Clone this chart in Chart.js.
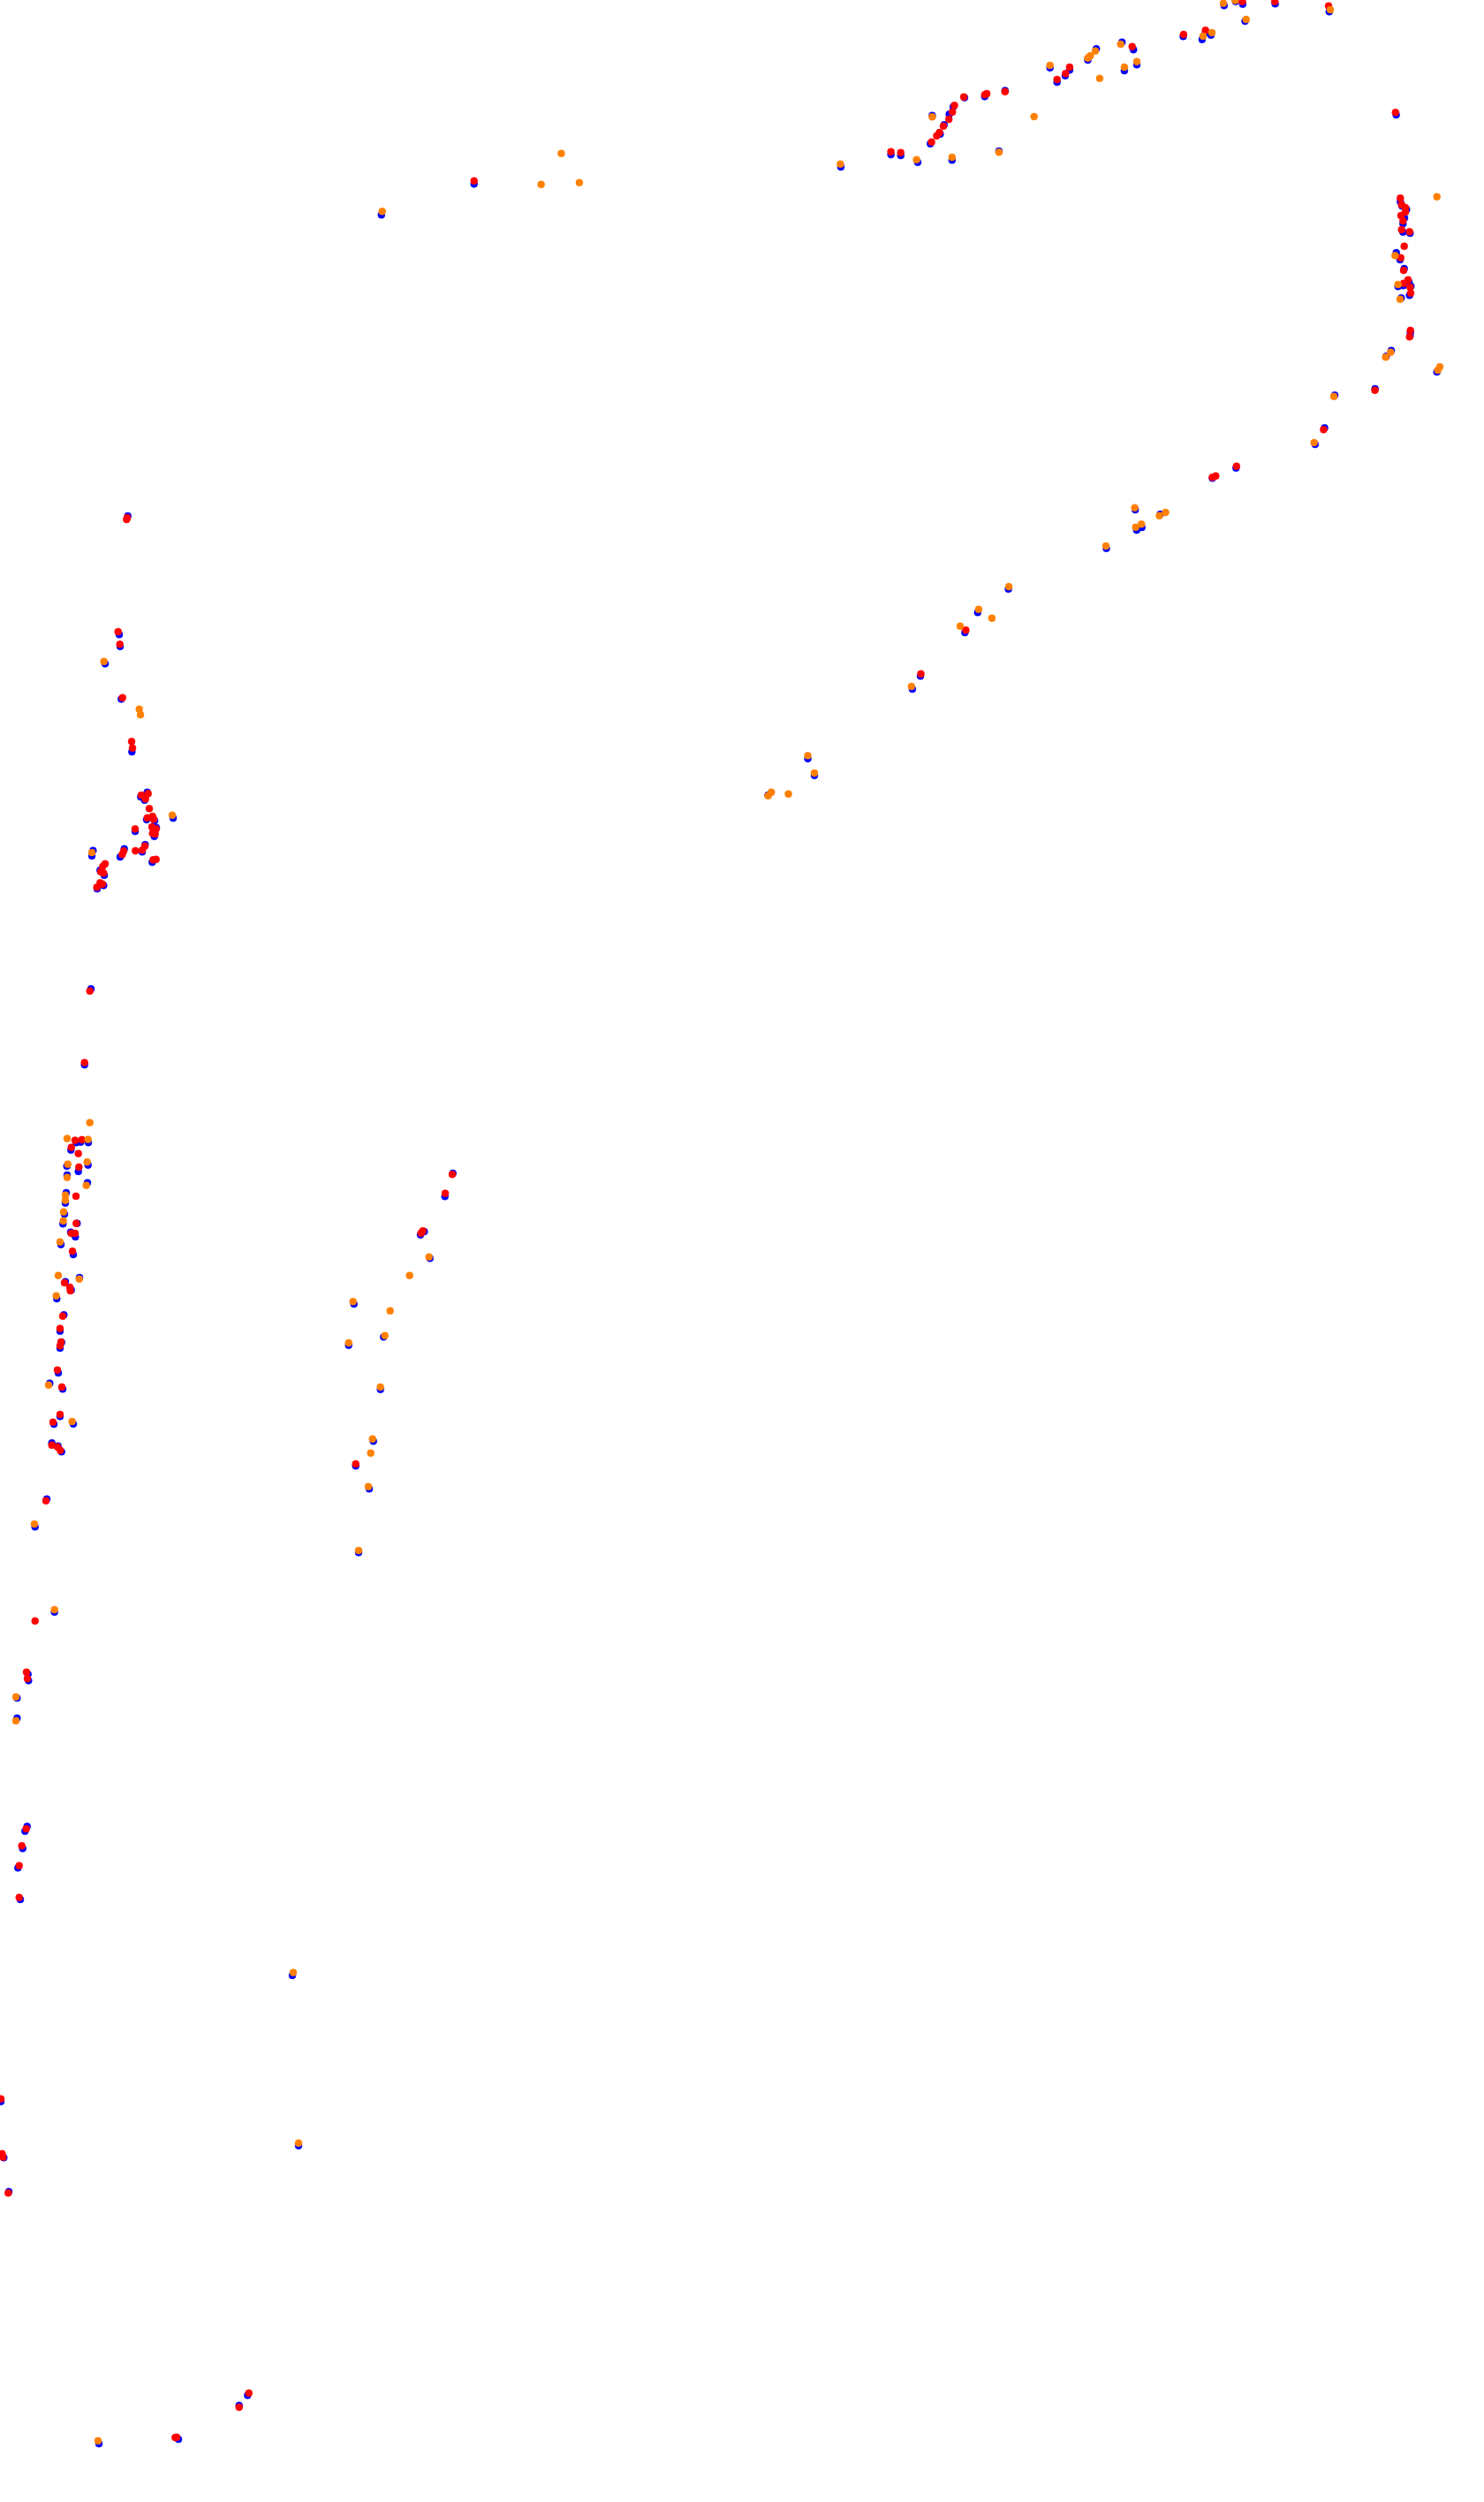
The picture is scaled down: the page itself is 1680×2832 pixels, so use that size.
<!DOCTYPE html>
<html>
<head>
<meta charset="utf-8">
<script src="https://cdn.jsdelivr.net/npm/chart.js@4/dist/chart.umd.min.js"></script>
<style>
  html, body { margin: 0; padding: 0; background: #ffffff; }
  #wrap { width: 1680px; height: 2832px; }
  canvas { display: block; }
</style>
</head>
<body>
<div id="wrap"><canvas id="c" width="1680" height="2832"></canvas></div>
<script>
// Axis extents (data units = position on the track map)
const xRange = [0, 1680];
const yRange = [0, 2832];

const redPoints = [
  [536.7,204.7],[1008.6,171.7],[1019.7,172.7],[1054.6,160.7],[1060.4,153.7],[1063.5,150],[1068,142.7],[1074.2,135],[1078.2,126.7],[1080.5,119.3],
  [1091.1,109.7],[1114.8,107.3],[1117.1,106],[1137.8,103.7],[1196.7,90],[1206.3,83.3],[1210.9,76],[1281.7,52.7],[1339.9,39],[1364.7,34.3],[1406.4,1.7],[1443.2,1.7],[1504,6.7],[1579.8,127.3],
  [1585.3,224.3],[1586.7,231.7],[1591,235],[1591,240],[1586,244],[1588.3,250],[1586.7,260],[1595.7,262.3],[1589.7,278.7],[1585.7,291.7],[1589,306],[1594,316.7],[1589,320.7],[1596.3,325],[1597,331.7],[1596.7,374],[1595.7,381.3],[1556.5,441.7],
  [1498.4,486.3],[1399.8,527.7],[1376.3,538.7],[1372.5,540.3],[1093.4,713.3],[1042.5,762.7],
  [144,586],[143.3,588],[133.7,715],[135.7,729.3],[138.7,789.7],[149,839.3],[150,846.7],[160,900],[167.7,898.3],[164.7,904.3],[169,915.3],[166.7,925.7],[172.7,924],[174,927.3],[172,936],[176.7,938.3],[172.7,943.3],[175.7,944],[153,938.3],[164,957.7],[161,962.3],[153.3,963],[140,963.3],[138.3,967.3],[173.3,973.3],[176.7,972.7],[119,977.7],[116.3,980.7],[114,986.7],[117.3,988.3],[113.3,999.3],[116,1000.7],[109.7,1004.3],
  [101.7,1121.7],[95.7,1202.7],[85,1290.7],[92.7,1290],[80.7,1298.7],[88.7,1305.7],[89.3,1321],[86,1354],[86.3,1384.7],[80.7,1396],[85,1396],[82,1416.3],
  [73,1452],[79,1457],[79.7,1461],[71,1489.7],[68,1503.7],[69,1519],[68,1523.3],[65,1550.7],[70,1570],[68,1601],[60,1609.7],[58.7,1635.7],[65,1637.7],[68.3,1641.7],[52,1698.7],
  [512,1329.3],[504,1350.7],[478.7,1393.3],[476.7,1395.7],[402.7,1657],
  [39.7,1834.7],[30,1892.7],[31,1900],[29.7,2070],[24.7,2089.3],[21.7,2111.7],[21.7,2147.7],
  [1,2375.7],[2.3,2437.7],[3.3,2441.7],[9.3,2482.3],
  [200,2758.7],[198.3,2759],[270.7,2724.7],[281.7,2708.7]
];

const orangePoints = [
  [432.7,239.3],[635.4,173.7],[612.6,208.7],[655.9,206.7],[951.4,185.7],[1037.6,180.7],[1055.4,132.3],[1077.8,178],
  [1130.9,172.3],[1170.7,132],[1188.7,74],[1244.9,88.7],[1231.5,65.7],[1234.2,63.3],[1240,57.7],[1268.7,50],[1272.9,76],[1287,69.7],[1362,41],[1372,37],[1385,3.7],[1398.4,0.5],[1410.7,22],[1506,11],
  [1626.7,222.7],[1579.3,289.3],[1582.7,322],[1585,338.7],[1574.3,398.7],[1568.7,404.3],[1630,415.3],[1627.7,419],[1510,448.7],
  [1487.7,501],[1284.6,574.7],[1319.5,580],[1312.5,583.7],[1292.1,593.3],[1285.7,596.7],[1252,618],[1142.1,664],[1107.9,689.7],[1122.9,699.7],[1087,708.7],[1031.8,777],[914.5,855.3],[922,875],[873.2,896.7],[869.5,900.7],[892.5,898.7],
  [117.7,748.7],[157.7,802.7],[159,809],[195,922.7],[104,965],
  [101.7,1270.7],[76,1288.7],[99.7,1289.7],[76.7,1317.7],[98.7,1315.3],[76,1332.7],[97.7,1341.7],[74,1352.7],[74,1358.7],[72,1371.7],[71.7,1382],[68,1405.7],
  [66,1443.7],[89.7,1447.7],[63.7,1466.7],[55,1567.7],[81.7,1609],[39,1725],
  [485.7,1422.7],[463.7,1443.7],[399.7,1473.3],[441.7,1483.7],[435.7,1511.7],[394.7,1520],[430.7,1570],[421.7,1628.7],[419.7,1644.7],[417,1682.7],[406,1755],
  [61.7,1822],[18,1920.7],[18,1947.7],
  [332,2232.7],[338,2425.7],
  [111,2762.7]
];

const bluePoints = [
  [431.8,243.3],[536.7,208.3],[951.9,189],[1008.6,175],[1019.7,176],[1038.9,183.7],[1055.4,130.7],[1053.2,162.7],[1064.4,151.7],[1068.8,141.3],[1074.6,129.3],[1079.1,121],[1077.8,181.3],
  [1091.9,110.5],[1114.8,109.3],[1137.8,102.5],[1130.9,171],[1196.7,93],[1205.9,85.7],[1210.9,79.3],[1188.7,76.7],[1231.5,68],[1241.1,55.3],[1270.2,47.7],[1283.2,56.3],[1272.9,80],[1287,73.3],[1339.5,41.3],[1364.7,37.3],[1360.9,44.7],[1370.9,39.7],[1385.8,6.3],[1398.8,1.7],[1406.8,4.7],[1409.5,24],[1443.6,4.3],[1504.8,13.3],[1580.6,130],
  [1585.3,228.3],[1587.3,233.3],[1592.3,237.3],[1590,246.7],[1588.3,253.3],[1588.3,262.7],[1596.3,264],[1580.7,286],[1585,294],[1589.7,304],[1595,319.3],[1588.7,323.3],[1597.3,324],[1582.7,324.3],[1595.7,334.3],[1586.3,337.3],[1596.7,376],[1596.3,380],[1575,396.7],[1569.3,403.3],[1626.7,421],[1556.7,440],[1511,447.3],
  [1499.5,484.3],[1488.8,503],[1399.3,529.7],[1372.5,541.3],[1285.2,577],[1313.6,582],[1292.7,597],[1286.8,600],[1252.5,620.7],[1141.6,666.7],[1106.8,693.3],[1092.3,716],[1042,765.3],[1032.9,780],[914.5,858.7],[922,877.7],[869.5,900],
  [144.7,584],[135,718.3],[136,731.7],[119,751.3],[137.3,791.3],[149.3,851],[166.7,896.7],[163.7,905.7],[159.3,902],[196,926],[166,927.7],[175,929],[177,936.7],[174.7,946.7],[153,941],[164.3,956],[161,964.3],[140.7,960.7],[136,970],[172.3,976],[104,968.7],[105.3,962.7],[113.3,985],[118,990.7],[110,1006],[117.3,1002.3],
  [103,1119.3],[95.7,1205.3],[86.3,1293.3],[91.3,1292.7],[100,1293.3],[80.3,1301.7],[75.7,1320],[99.7,1318.7],[88.7,1326],[76,1330],[99,1338.7],[75,1350],[74,1361.7],[73,1374.3],[71.3,1385.3],[87.3,1384.7],[80,1394.7],[85.3,1400],[69,1408.7],
  [83,1420],[74,1450.7],[90,1446],[80.7,1460.3],[64.3,1470],[72.3,1488.3],[68,1506.7],[69.7,1519.3],[68,1526],[66,1554],[56.3,1565.7],[71,1572.3],[68,1603.3],[61,1612],[83,1611.7],[58.7,1633.3],[65.7,1636.7],[69.7,1643.3],[53,1696.7],[39.7,1728.3],
  [512.7,1328],[503.7,1354.3],[476,1397.7],[480.3,1394],[486.7,1424.3],[400.7,1476],[434.3,1513.3],[394.7,1522.7],[430.7,1572.7],[422.7,1631.3],[402.7,1659.3],[418,1685.3],[406,1757.3],
  [61.7,1824.7],[31.7,1895],[32.3,1902.3],[19.3,1922],[19.3,1944.7],[30.7,2067.3],[28.3,2072.7],[25.7,2092.3],[20.3,2114.3],[23,2150],
  [331,2236],[1,2378.7],[4.3,2442.3],[338,2428.7],[10,2480.7],
  [112,2766],[202,2761],[270.7,2722.7],[280.3,2711.3]
];

const toXY = arr => arr.map(p => ({ x: p[0], y: p[1] }));

function ds(label, pts, color, order) {
  return {
    label: label,
    data: toXY(pts),
    backgroundColor: color,
    borderColor: color,
    borderWidth: 0.5,
    pointRadius: 4,
    pointHoverRadius: 4,
    order: order
  };
}

new Chart(document.getElementById('c'), {
  type: 'scatter',
  data: {
    datasets: [
      ds('Series 1', bluePoints, 'rgb(0,0,255)', 3),
      ds('Series 3', redPoints, 'rgb(255,0,0)', 2),
      ds('Series 2', orangePoints, 'rgb(255,128,0)', 1)
    ]
  },
  options: {
    responsive: false,
    animation: false,
    layout: { padding: 0, autoPadding: false },
    plugins: { legend: { display: false }, tooltip: { enabled: false }, title: { display: false } },
    scales: {
      x: { type: 'linear', min: xRange[0], max: xRange[1], display: false },
      y: { type: 'linear', min: yRange[0], max: yRange[1], reverse: true, display: false }
    }
  }
});
</script>
</body>
</html>
